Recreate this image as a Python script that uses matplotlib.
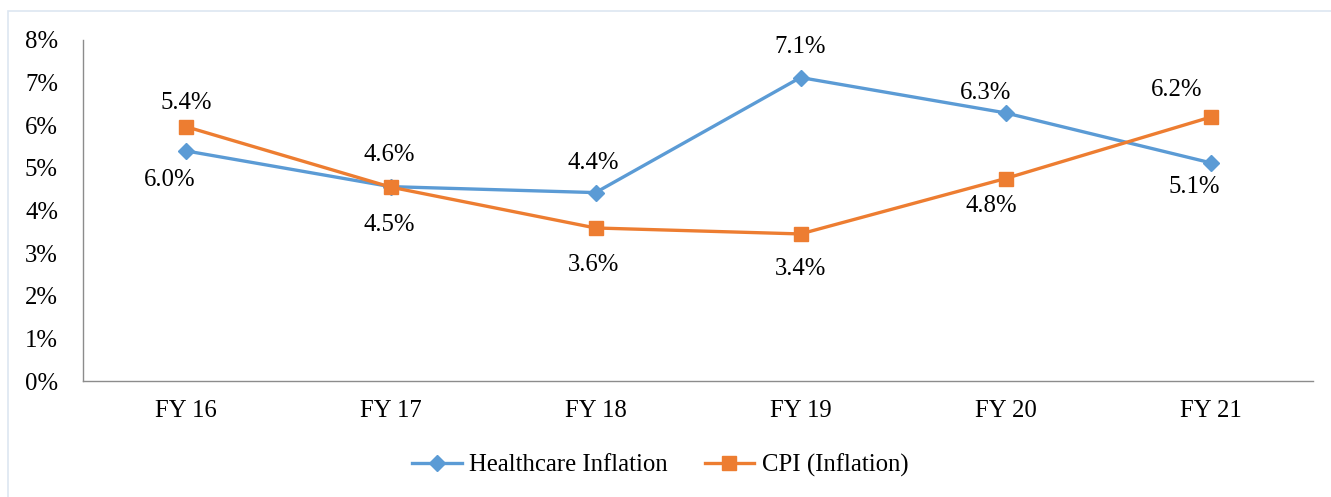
import matplotlib
matplotlib.use("Agg")
import matplotlib.pyplot as plt
from matplotlib.patches import Rectangle

categories = ["FY 16", "FY 17", "FY 18", "FY 19", "FY 20", "FY 21"]
healthcare = [5.40, 4.56, 4.42, 7.12, 6.29, 5.12]
cpi = [5.97, 4.55, 3.59, 3.45, 4.75, 6.19]
healthcare_labels = ["5.4%", "4.6%", "4.4%", "7.1%", "6.3%", "5.1%"]
cpi_labels = ["6.0%", "4.5%", "3.6%", "3.4%", "4.8%", "6.2%"]
yticks = [0, 1, 2, 3, 4, 5, 6, 7, 8]
ytick_labels = ["0%", "1%", "2%", "3%", "4%", "5%", "6%", "7%", "8%"]

# label offsets in pixels (dx, dy) relative to the labelled point
hc_offsets = [(1, 48), (-1, 32), (-2, 30), (0, 31), (-20, 20), (-16, -24)]
cpi_offsets = [(-16, -53), (-1, -38), (-2, -37), (0, -35), (-14, -27), (-34, 27)]

BLUE = "#5B9BD5"
ORANGE = "#ED7D31"
FS = 17.8
plt.rcParams["font.family"] = ["Liberation Serif", "DejaVu Serif"]

fig = plt.figure(figsize=(13.31, 4.97), dpi=100)
fig.patches.append(Rectangle((8 / 1331, -0.5), 2, 0.5 + (1 - 11 / 497),
                             transform=fig.transFigure, fill=False,
                             edgecolor="#DDE6F1", linewidth=1.2))
ax = fig.add_axes([83 / 1331, 1 - 381 / 497, (1313 - 83) / 1331, (381 - 40) / 497])

x = list(range(len(categories)))
ax.plot(x, healthcare, color=BLUE, lw=2.4, marker="D", markersize=8,
        label="Healthcare Inflation", zorder=3)
ax.plot(x, cpi, color=ORANGE, lw=2.4, marker="s", markersize=10,
        label="CPI (Inflation)", zorder=3)

for xi, v, t, (dx, dy) in zip(x, healthcare, healthcare_labels, hc_offsets):
    ax.annotate(t, (xi, v), xytext=(dx, dy), textcoords="offset pixels",
                ha="center", va="center", fontsize=FS)
for xi, v, t, (dx, dy) in zip(x, cpi, cpi_labels, cpi_offsets):
    ax.annotate(t, (xi, v), xytext=(dx, dy), textcoords="offset pixels",
                ha="center", va="center", fontsize=FS)

ax.set_xlim(-0.5, len(categories) - 0.5)
ax.set_ylim(0, 8)
ax.set_xticks(x)
ax.set_xticklabels(categories, fontsize=FS)
ax.set_yticks(yticks)
ax.set_yticklabels(ytick_labels, fontsize=FS)
ax.tick_params(axis="both", length=0)
ax.tick_params(axis="y", pad=18)
ax.tick_params(axis="x", pad=14)
for s in ["top", "right"]:
    ax.spines[s].set_visible(False)
for s in ["left", "bottom"]:
    ax.spines[s].set_color("#8C8C8C")
    ax.spines[s].set_linewidth(1.0)

fig.legend(loc="center", bbox_to_anchor=(0.496, 1 - 465 / 497), ncol=2,
           frameon=False, fontsize=FS, handlelength=2.0, handletextpad=0.3,
           columnspacing=1.5)

fig.savefig("out.png", dpi=100)
